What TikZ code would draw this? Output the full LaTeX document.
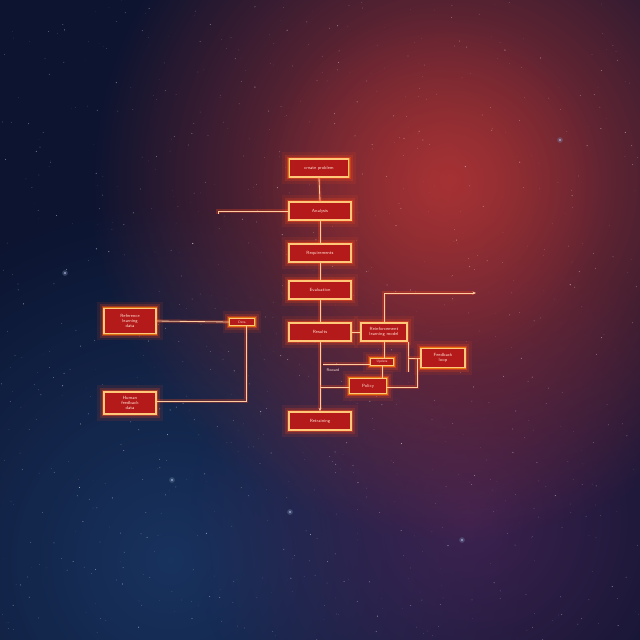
\documentclass[tikz,border=0pt]{standalone}
\usetikzlibrary{fadings,arrows.meta}
\definecolor{bgbase}{HTML}{0C1430}
\definecolor{glowred}{HTML}{B03434}
\definecolor{glowblue}{HTML}{1F4478}
\definecolor{glowpurple}{HTML}{4E2658}
\definecolor{boxfill}{HTML}{B51A1A}
\definecolor{boxedge}{HTML}{FFC878}
\definecolor{haloc}{HTML}{FF4A1A}
\definecolor{linec}{HTML}{FFCCA0}
\definecolor{txt}{HTML}{FFE0D4}
\tikzfading[name=softglow, inner color=transparent!0, outer color=transparent!100]
\tikzset{
  gbox/.style={rectangle, draw=boxedge, fill=boxfill, line width=1pt, inner sep=0pt,
    text=txt, font=\sffamily\fontsize{3.2}{3.8}\selectfont, align=center,
    preaction={draw=haloc, line width=10pt, opacity=0.10},
    preaction={draw=haloc, line width=6pt, opacity=0.20},
    preaction={draw=haloc, line width=3pt, opacity=0.45},
    preaction={draw=orange!80!yellow, line width=1.8pt, opacity=0.6}},
  mainbox/.style={gbox, minimum width=1.55cm, minimum height=0.45cm},
  gline/.style={draw=linec, line width=0.6pt,
    preaction={draw=haloc, line width=2.6pt, opacity=0.28}},
  tip/.style={-{Stealth[length=2.5pt,width=2pt]}},
  smalltext/.style={text=txt, font=\sffamily\fontsize{2.8}{3.2}\selectfont, inner sep=0pt}
}
\begin{document}
\begin{tikzpicture}[x=0.025cm,y=-0.025cm]
\useasboundingbox (0,0) rectangle (640,640);
% background
\fill[bgbase] (0,0) rectangle (640,640);
\begin{scope}
\clip (0,0) rectangle (640,640);
\fill[glowblue, path fading=softglow, fill opacity=0.65] (170,560) circle (9cm);
\fill[glowpurple, path fading=softglow, fill opacity=0.75] (470,520) circle (7cm);
\fill[glowred, path fading=softglow, fill opacity=0.9] (450,180) circle (9cm);
\fill[glowred, path fading=softglow, fill opacity=0.45] (430,190) circle (4.5cm);
\pgfmathsetseed{7}
\foreach \i in {1,...,900}{
  \pgfmathsetmacro\sx{rnd*640}
  \pgfmathsetmacro\sy{rnd*640}
  \pgfmathsetmacro\so{0.15+0.55*rnd}
  \pgfmathsetmacro\sr{0.1+0.28*rnd}
  \fill[white, opacity=\so] (\sx,\sy) circle (\sr pt);
}
\foreach \p in {(65,273),(172,480),(462,540),(290,512),(560,140)}{
  \fill[glowblue!60!white, opacity=0.35] \p circle (2pt);
  \fill[white!80!blue] \p circle (0.6pt);
}
\end{scope}

% nodes
\node[gbox, minimum width=1.48cm, minimum height=0.45cm] (A) at (319,168) {create problem};
\node[mainbox] (B) at (320,211) {Analysis};
\node[mainbox] (C) at (320,253) {Requirements};
\node[mainbox] (D) at (320,290) {Evaluation};
\node[mainbox] (E) at (320,332) {Results};
\node[gbox, minimum width=1.15cm, minimum height=0.45cm] (F) at (384,332) {Reinforcement\\learning model};
\node[gbox, minimum width=1.1cm, minimum height=0.475cm] (G) at (443,358) {Feedback\\loop};
\node[gbox, minimum width=0.92cm, minimum height=0.38cm] (H) at (368,386) {Policy};
\node[gbox, minimum width=0.58cm, minimum height=0.17cm, font=\sffamily\fontsize{2.4}{2.8}\selectfont] (I) at (382,362) {Update};
\node[mainbox] (J) at (320,421) {Retraining};
\node[gbox, minimum width=1.3cm, minimum height=0.62cm] (K) at (130,321) {Reference\\learning\\data};
\node[gbox, minimum width=1.3cm, minimum height=0.55cm] (L) at (130,403) {Human\\feedback\\data};
\node[gbox, minimum width=0.62cm, minimum height=0.18cm, font=\sffamily\fontsize{2.4}{2.8}\selectfont] (M) at (242,322) {Data};
\node[smalltext] (rwl) at (333,370) {Reward};

% coordinates
\coordinate (lb) at (218,211);
\coordinate (lbh) at (218,214);
\coordinate (mL) at (246,401);
\coordinate (rt) at (476,293);
\coordinate (fdrop) at (408,372);
\coordinate (gh) at (417,387);
\coordinate (mh) at (320,387);
\coordinate (rw) at (323,364);

% connectors
\draw[gline] (A.south) -- (B.north);
\draw[gline] (B.south) -- (C.north);
\draw[gline] (C.south) -- (D.north);
\draw[gline] (D.south) -- (E.north);
\draw[gline, tip] (E.south) -- (J.north);
\draw[gline] (lbh) -- (lb) -- (B.west);
\draw[gline] (K.east) -- (M.west);
\draw[gline] (M.south -| mL) -- (mL) -- (L.east |- mL);
\draw[gline] (E.east) -- (F.west);
\draw[gline, tip] (F.north) |- (rt);
\draw[gline] (F.south) -- (F.south |- I.north);
\draw[gline] (fdrop |- F.south) -- (fdrop);
\draw[gline] (fdrop |- G.west) -- (G.west);
\draw[gline] (gh |- G.west) -- (gh) -- (H.east |- gh);
\draw[gline] (mh) -- (H.west |- mh);
\draw[gline] (I.west |- rw) -- (rw);
\draw[gline] (I.south) -- (I.south |- H.north);
\end{tikzpicture}
\end{document}
